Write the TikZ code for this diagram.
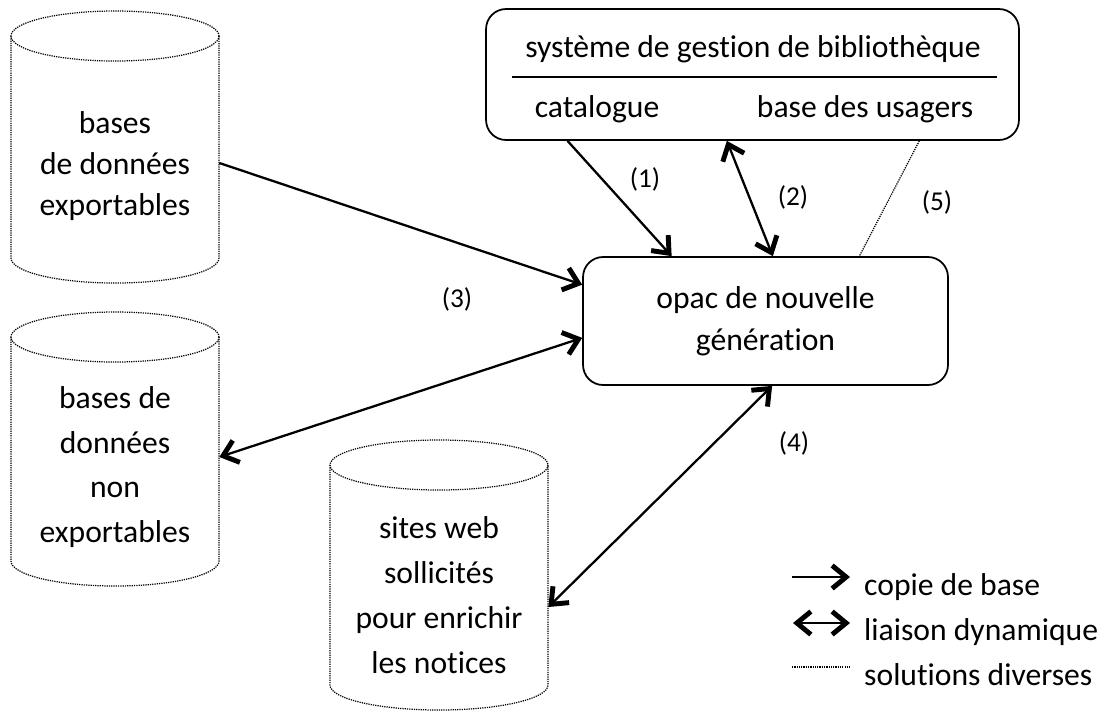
\documentclass[tikz,border=0pt]{standalone}
\usepackage{fontspec}
\setmainfont[Ligatures=NoCommon]{Carlito}
\usetikzlibrary{positioning,arrows.meta,calc}

\newcommand{\policegrande}{\fontsize{18}{23}\selectfont}
\newcommand{\policepetite}{\fontsize{15.5}{17}\selectfont}
% cylindre : centre x, haut, bas, demi-largeur
\newcommand{\cylindre}[4]{%
  \draw[pointille] (#1-#4,#2) -- (#1-#4,#3)
    arc[start angle=180, end angle=0, x radius=#4, y radius=25] -- (#1+#4,#2);
  \draw[pointille] (#1,#2) ellipse[x radius=#4, y radius=25];
}

\tikzset{
  pointe/.tip={Straight Barb[length=2.8mm, width=4.6mm, line width=2.8pt]},
  fleche/.style={line width=1.3pt, -pointe},
  doublefleche/.style={line width=1.3pt, pointe-pointe},
  pointille/.style={line width=0.7pt, dash pattern=on 0.7pt off 0.6pt},
  boite/.style={draw, line width=1pt, rounded corners=4mm, inner sep=0pt},
  cyltexte/.style={align=center, minimum width=4.16cm, inner sep=0pt},
  etiquette/.style={font=\policepetite},
}

\begin{document}
\begin{tikzpicture}[x=0.02cm, y=-0.02cm, every node/.style={font=\policegrande}]
  \useasboundingbox (0,0) rectangle (1104,711);

  % les trois bases
  \cylindre{115}{36}{258}{104}
  \cylindre{115}{337}{561}{104}
  \cylindre{439}{465}{685}{109}
  \node[cyltexte, font=\fontsize{18}{23.2}\selectfont] (cyl1) at (115,166) {bases\\de données\\exportables};
  \node[cyltexte, font=\fontsize{18}{25.5}\selectfont] (cyl2) at (115,467) {bases de\\données\\non\\exportables};
  \node[cyltexte, minimum width=4.36cm, font=\fontsize{18}{25.5}\selectfont] (cyl3) at (439,595) {sites web\\sollicités\\pour enrichir\\les notices};

  % système de gestion de bibliothèque
  \node[boite, minimum width=10.66cm, minimum height=2.62cm] (sgb) at (752.5,74.5) {};
  \node[anchor=base] (titre) at (753,57) {système de gestion de bibliothèque};
  \draw[line width=0.8pt] (512,77) -- (997,77);
  \node[anchor=base] (catalogue) at (597,117) {catalogue};
  \node[anchor=base] (usagers) at (865,117) {base des usagers};

  % opac
  \node[boite, minimum width=7.3cm, minimum height=2.56cm, align=center,
        font=\fontsize{18}{24}\selectfont] (opac) at (765.5,321) {opac de nouvelle\\génération};

  % liaisons
  \draw[fleche] ($(sgb.south west)!0.154!(sgb.south east)$) -- ($(opac.north west)!0.244!(opac.north east)$);
  \draw[doublefleche] ($(sgb.south west)!0.452!(sgb.south east)$) -- ($(opac.north west)!0.52!(opac.north east)$);
  \draw[pointille] ($(sgb.south west)!0.812!(sgb.south east)$) -- ($(opac.north west)!0.756!(opac.north east)$);
  \draw[fleche] ([yshift=0.06cm]cyl1.east) -- ($(opac.north west)!0.22!(opac.south west)$);
  \draw[doublefleche] ($(opac.north west)!0.63!(opac.south west)$) -- ([yshift=0.2cm]cyl2.east);
  \draw[doublefleche] ($(opac.south west)!0.518!(opac.south east)$) -- ([yshift=-0.24cm]cyl3.east);

  \node[etiquette] (n1) at (645,179) {(1)};
  \node[etiquette] (n2) at (793,197) {(2)};
  \node[etiquette] (n3) at (457,299) {(3)};
  \node[etiquette] (n4) at (794,443) {(4)};
  \node[etiquette] (n5) at (937,202) {(5)};

  % légende
  \node[anchor=base west] (copie) at (858,595) {copie de base};
  \node[anchor=base west] (liaison) at (858,640) {liaison dynamique};
  \node[anchor=base west] (diverses) at (858,685) {solutions diverses};
  \draw[fleche] ($(copie.base west)+(-66,-18)$) -- ($(copie.base west)+(-8,-18)$);
  \draw[doublefleche] ($(liaison.base west)+(-65,-17)$) -- ($(liaison.base west)+(-8,-17)$);
  \draw[pointille] ($(diverses.base west)+(-66,-18)$) -- ($(diverses.base west)+(-8,-18)$);
\end{tikzpicture}
\end{document}
